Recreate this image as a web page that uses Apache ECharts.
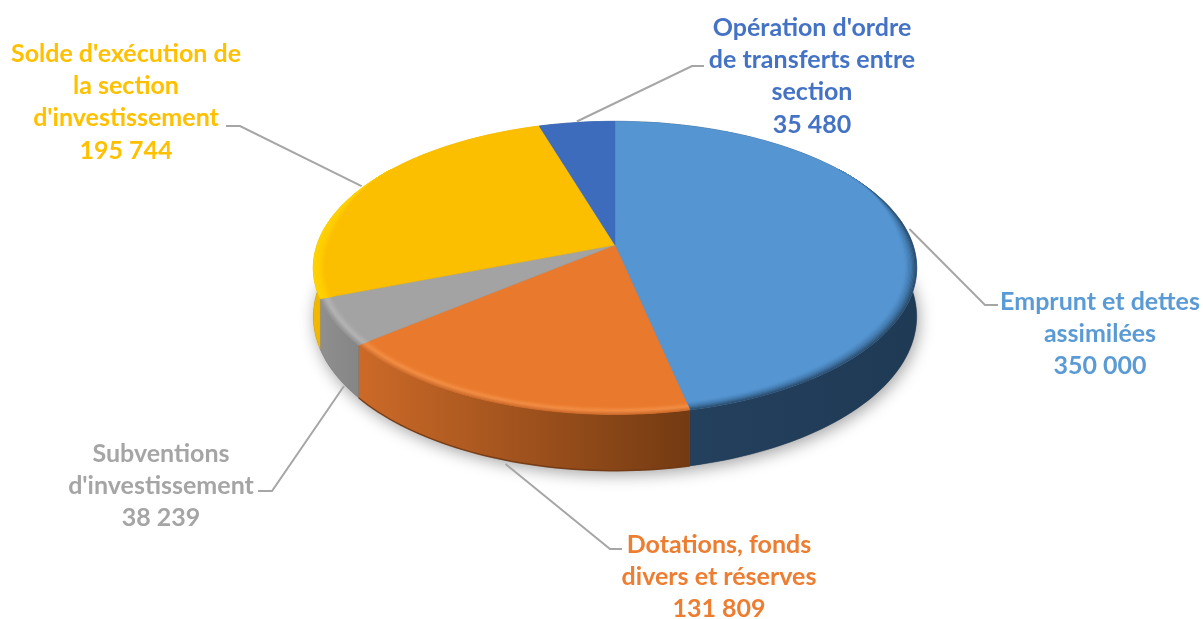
<!DOCTYPE html>
<html><head><meta charset="utf-8">
<style>html,body{margin:0;padding:0;background:#fff}#c{width:1203px;height:619px}</style>
<script src="https://cdn.jsdelivr.net/npm/echarts@6/dist/echarts.min.js"></script>
</head><body><div id="c"></div>
<script>
// ---- data (clockwise from 12 o'clock) ----
const categories = ["Emprunt et dettes\nassimilées", "Dotations, fonds\ndivers et réserves", "Subventions\nd'investissement", "Solde d'exécution de\nla section\nd'investissement", "Opération d'ordre\nde transferts entre\nsection"];
const values = [350000, 131809, 38239, 195744, 35480];

// ---- styling ----
const labelColors = ['#5b9bd5', '#ed7d31', '#a5a5a5', '#ffc000', '#4472c4'];
const topColors = ['#5596d2', '#e9792c', '#a3a3a3', '#fbbf00', '#3e6cbc'];
const sideStops = [['#25425f', '#1f3a55'], ['#cc6a28', '#733a12'], ['#8f8f8f', '#858585'], ['#f2b800', '#e0a800'], ['#2c4d86', '#2c4d86']];
const bottomEdge = [null, '#6e3610', null, null, null];
const rimStops = [
  ['#27445f', '#4379ad', '#5596d2'],
  ['#c9682a', '#f39048', '#e9792c'],
  ['#8e8e8e', '#b6b6b6', '#a3a3a3'],
  ['#ffd400', '#ffcf00', '#fbbf00'],
  null
];
const rimRanges = [[55, 172], [160, 235], [228, 255], [245, 305], null];
const labelPos = [[1100, 334], [719, 577], [161, 486], [126, 102], [812, 76]];
const elbows = [[[985, 305], [998, 305]], [[610, 549], [622, 549]], [[272, 491], [258, 491]], [[240, 126], [226, 126]], [[692, 66], [704, 66]]];
const anchorShift = [[3, -1], [6, 5], [9, 12], [-3, 0], [0, -1]];
const anchorDepth = [0, 1, 1, 0, 0];

// ---- projection of the tilted disc ----
const CX = 615, CY = 245, A = 298, B = 143, K = 0.156, DEPTH = 47.5;
const total = values.reduce((a, b) => a + b, 0);
const cum = [0];
values.forEach((v, i) => cum.push(cum[i] + v));
const ang = f => f / total * 360;
function proj(deg, r, drop) {
  const t = deg * Math.PI / 180, X = r * Math.sin(t), Y = -r * Math.cos(t), d = 1 - K * Y;
  return [CX + A * X / d, CY + B * Y / d + (drop ? DEPTH / d : 0)];
}
function arc(a0, a1, rf, drop) {
  const n = Math.max(2, Math.ceil((a1 - a0) / 1.5)), pts = [];
  for (let i = 0; i <= n; i++) {
    const a = a0 + (a1 - a0) * i / n;
    pts.push(proj(a, typeof rf === 'function' ? rf(a) : rf, drop));
  }
  return pts;
}
const fmt = v => String(v).replace(/\B(?=(\d{3})+$)/g, ' ');
const smooth = x => { x = Math.min(1, Math.max(0, x)); return x * x * (3 - 2 * x); };

function renderSides(params) {
  const i = params.dataIndex, a0 = ang(cum[i]), a1 = ang(cum[i + 1]);
  const children = [];
  if (i === 0) {
    children.push({
      type: 'polygon', silent: true,
      shape: { points: arc(0, 360, 1, true) },
      style: { fill: '#777', shadowBlur: 16, shadowColor: 'rgba(0,0,0,0.36)', shadowOffsetX: 2, shadowOffsetY: 4 }
    });
  }
  const top = arc(a0, a1, 1, false), bot = arc(a0, a1, 1, true);
  const xs = top.concat(bot).map(p => p[0]);
  const s = sideStops[i];
  children.push({
    type: 'polygon', silent: true,
    shape: { points: top.concat(bot.slice().reverse()) },
    style: {
      fill: { type: 'linear', global: true, x: Math.min(...xs), y: 0, x2: Math.max(...xs), y2: 0,
        colorStops: [{ offset: 0, color: s[0] }, { offset: 1, color: s[1] }] },
      stroke: s[1], lineWidth: 0.4
    }
  });
  if (bottomEdge[i]) {
    children.push({
      type: 'polyline', silent: true,
      shape: { points: bot },
      style: { fill: null, stroke: bottomEdge[i], lineWidth: 1.5, opacity: 0.8 }
    });
  }
  return { type: 'group', children };
}

function renderTops(params) {
  const i = params.dataIndex, a0 = ang(cum[i]), a1 = ang(cum[i + 1]);
  const children = [{
    type: 'polygon', silent: true,
    shape: { points: [[CX, CY]].concat(arc(a0, a1, 1, false)) },
    style: { fill: topColors[i], stroke: topColors[i], lineWidth: 0.5 }
  }];
  if (rimRanges[i]) {
    const r0 = Math.max(a0, rimRanges[i][0]), r1 = Math.min(a1, rimRanges[i][1]);
    const W = 0.04, N = 10;
    const taper = a => {
      const lo = rimRanges[i][0] < a0 ? 1 : smooth((a - r0) / 35);
      const hi = rimRanges[i][1] > a1 ? 1 : smooth((r1 - a) / 30);
      return lo * hi;
    };
    for (let k = 0; k < N; k++) {
      const outer = a => 1 - W * taper(a) * k / N;
      const inner = a => 1 - W * taper(a) * (k + 1) / N;
      const col = echarts.color.lerp((k + 0.5) / N, rimStops[i]);
      children.push({
        type: 'polygon', silent: true,
        shape: { points: arc(r0, r1, outer, false).concat(arc(r0, r1, inner, false).reverse()) },
        style: { fill: col, stroke: col, lineWidth: 0.4 }
      });
    }
  }
  return { type: 'group', children };
}

function renderLabels(params) {
  const i = params.dataIndex, mid = ang((cum[i] + cum[i + 1]) / 2);
  const p = proj(mid, 1, !!anchorDepth[i]);
  const start = [p[0] + anchorShift[i][0], p[1] + anchorShift[i][1]];
  return {
    type: 'group',
    children: [
      { type: 'polyline', silent: true, shape: { points: [start].concat(elbows[i]) },
        style: { fill: null, stroke: '#a6a6a6', lineWidth: 2 } },
      { type: 'text', silent: true, x: labelPos[i][0], y: labelPos[i][1],
        style: { text: categories[i] + '\n' + fmt(values[i]), fill: labelColors[i],
          fontFamily: 'Lato', fontWeight: 'bold', fontSize: 25, lineHeight: 32.3,
          align: 'center', verticalAlign: 'middle' } }
    ]
  };
}

const rows = values.map(v => [v]);
const chart = echarts.init(document.getElementById('c'), null, { renderer: 'canvas' });
chart.setOption({
  animation: false,
  backgroundColor: '#fff',
  series: [
    { type: 'custom', coordinateSystem: 'none', z: 1, data: rows, renderItem: renderSides, silent: true },
    { type: 'custom', coordinateSystem: 'none', z: 2, data: rows, renderItem: renderTops, silent: true },
    { type: 'custom', coordinateSystem: 'none', z: 3, data: rows, renderItem: renderLabels, silent: true }
  ]
});
</script></body></html>
